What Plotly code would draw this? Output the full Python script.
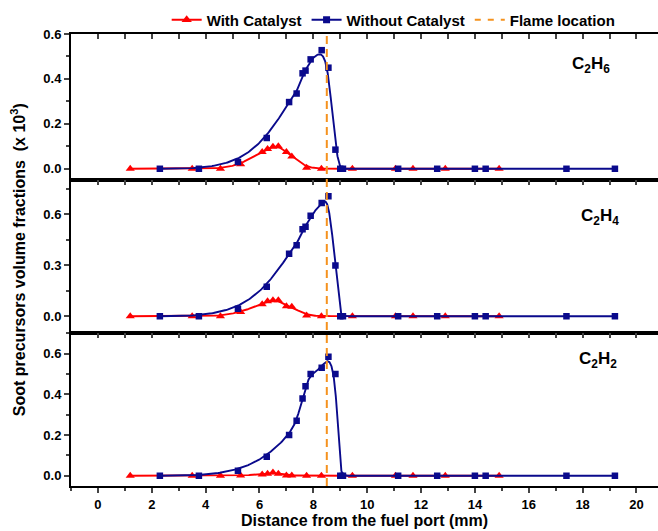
import numpy as np
import plotly.graph_objects as go

# Axial positions (mm) of the measured points
dist_with = [1.2, 3.5, 4.55, 5.3, 6.1, 6.3, 6.5, 6.7, 7.0, 7.2, 7.75, 8.3, 9.45, 11.05, 11.7, 12.9, 14.9]
dist_without = [2.3, 3.75, 5.2, 6.27, 7.1, 7.38, 7.6, 7.71, 7.9, 8.31, 8.56, 8.82, 9.0, 9.1,
                11.15, 12.6, 14.0, 14.4, 17.4, 19.2]

# Volume fractions (x 10^3)
c2h6_with = [0, 0, 0, 0.02, 0.075, 0.088, 0.098, 0.1, 0.075, 0.055, 0.005, 0, 0, 0, 0, 0, 0]
c2h6_without = [0, 0, 0.03, 0.137, 0.297, 0.335, 0.425, 0.437, 0.487, 0.528, 0.45, 0.085, 0, 0,
                0, 0, 0, 0, 0, 0]
c2h4_with = [0, 0, 0, 0.025, 0.07, 0.088, 0.093, 0.093, 0.058, 0.055, 0.004, 0, 0, 0, 0, 0, 0]
c2h4_without = [0, 0, 0.044, 0.173, 0.367, 0.417, 0.51, 0.526, 0.59, 0.665, 0.704, 0.298, 0, 0,
                0, 0, 0, 0, 0, 0]
c2h2_with = [0, 0, 0, 0.002, 0.006, 0.01, 0.016, 0.01, 0.002, 0.002, 0, 0, 0, 0, 0, 0, 0]
c2h2_without = [0, 0, 0.025, 0.094, 0.2, 0.27, 0.38, 0.44, 0.5, 0.53, 0.585, 0.5, 0, 0,
                0, 0, 0, 0, 0, 0]

flame_location = 8.5
species_labels = ["C<sub>2</sub>H<sub>6</sub>", "C<sub>2</sub>H<sub>4</sub>", "C<sub>2</sub>H<sub>2</sub>"]

RED = "#FF0000"
NAVY = "#0A0A8C"
ORANGE = "#F5921E"
FONT = "Arial, Liberation Sans, sans-serif"


def bspline(xs, ys, n=24):
    """Uniform cubic B-spline using the points as control points (clamped ends)."""
    P = np.column_stack([xs, ys]).astype(float)
    P = np.vstack([P[0], P[0], P, P[-1], P[-1]])
    t = np.linspace(0, 1, n, endpoint=False)
    b0 = (1 - t) ** 3 / 6
    b1 = (3 * t ** 3 - 6 * t ** 2 + 4) / 6
    b2 = (-3 * t ** 3 + 3 * t ** 2 + 3 * t + 1) / 6
    b3 = t ** 3 / 6
    segs = []
    for i in range(len(P) - 3):
        p0, p1, p2, p3 = P[i:i + 4]
        segs.append(np.outer(b0, p0) + np.outer(b1, p1) + np.outer(b2, p2) + np.outer(b3, p3))
    pts = np.vstack(segs + [P[-1][None, :]])
    return pts[:, 0], pts[:, 1]


panels = [
    (c2h6_with, c2h6_without, "x", "y"),
    (c2h4_with, c2h4_without, "x2", "y2"),
    (c2h2_with, c2h2_without, "x3", "y3"),
]

fig = go.Figure()
for with_vals, without_vals, xa, ya in panels:
    for xs, ys, color, symbol, size in [
        (dist_with, with_vals, RED, "triangle-up", 8),
        (dist_without, without_vals, NAVY, "square", 6.5),
    ]:
        cx, cy = bspline(xs, ys)
        fig.add_trace(go.Scatter(x=cx, y=cy, mode="lines", line=dict(color=color, width=1.9),
                                 xaxis=xa, yaxis=ya, showlegend=False, hoverinfo="skip"))
        fig.add_trace(go.Scatter(x=xs, y=ys, mode="markers",
                                 marker=dict(color=color, symbol=symbol, size=size, line=dict(width=0)),
                                 xaxis=xa, yaxis=ya, showlegend=False))

# helper trace so the overlay top-tick axis of the bottom panel is drawn
fig.add_trace(go.Scatter(x=[None], y=[None], xaxis="x4", yaxis="y3", showlegend=False))

# legend entries
fig.add_trace(go.Scatter(x=[None], y=[None], mode="lines+markers", name="With Catalyst",
                         line=dict(color=RED, width=2),
                         marker=dict(color=RED, symbol="triangle-up", size=9)))
fig.add_trace(go.Scatter(x=[None], y=[None], mode="lines+markers", name="Without Catalyst",
                         line=dict(color=NAVY, width=2),
                         marker=dict(color=NAVY, symbol="square", size=7)))
fig.add_trace(go.Scatter(x=[None], y=[None], mode="lines", name="Flame location",
                         line=dict(color=ORANGE, width=2, dash="6px,7px")))

# flame location marker across all panels
fig.add_shape(type="line", xref="x3", yref="paper", x0=flame_location, x1=flame_location,
              y0=0, y1=1, line=dict(color=ORANGE, width=2, dash="8px,5px"))

xrange = [-1, 20.8]
tickfont = dict(family=FONT, size=13, color="black", weight="bold")
top_axis = dict(range=xrange, side="top", ticks="inside", ticklen=5, tickwidth=1.5, dtick=1,
                tick0=0, showticklabels=False, showline=True, linewidth=2, linecolor="black",
                mirror=True, showgrid=False, zeroline=False)

domains = [[0.677, 1.0], [0.338, 0.677], [0.0, 0.338]]
yranges = [[-0.05, 0.6], [-0.1, 0.8], [-0.05, 0.7]]
ydticks = [0.2, 0.3, 0.2]

layout_axes = {}
for i in range(3):
    suffix = "" if i == 0 else str(i + 1)
    layout_axes["yaxis" + suffix] = dict(
        domain=domains[i], range=yranges[i], anchor="x" + suffix, dtick=ydticks[i], tick0=0,
        tickformat=".1f", ticks="outside", ticklen=5, tickwidth=1.5, tickfont=tickfont,
        minor=dict(ticks="outside", ticklen=3, tickwidth=1.5, dtick=ydticks[i] / 2, tick0=0),
        showline=True, linewidth=2, linecolor="black", showgrid=False, zeroline=False)

layout_axes["xaxis"] = dict(top_axis, anchor="y")
layout_axes["xaxis2"] = dict(top_axis, anchor="y2")
layout_axes["xaxis3"] = dict(
    range=xrange, anchor="y3", side="bottom", dtick=2, tick0=0, ticks="outside", ticklen=5,
    tickwidth=1.5, tickfont=tickfont,
    minor=dict(ticks="outside", ticklen=3, tickwidth=1.5, dtick=1, tick0=0),
    showline=True, linewidth=2, linecolor="black", mirror=True, showgrid=False, zeroline=False,
    title=dict(text="Distance from the fuel port (mm)", standoff=2,
               font=dict(family=FONT, size=16, color="black", weight="bold")))
layout_axes["xaxis4"] = dict(top_axis, anchor="y3", overlaying="x3", mirror=False)

fig.update_layout(
    width=658, height=531,
    margin=dict(l=71, r=0, t=34, b=45),
    paper_bgcolor="white", plot_bgcolor="white",
    font=dict(family=FONT, color="black"),
    legend=dict(orientation="h", x=0.163, xanchor="left", y=1.031, yanchor="middle",
                font=dict(family=FONT, size=15, color="black", weight="bold"),
                bgcolor="rgba(0,0,0,0)", itemwidth=30, tracegroupgap=0),
    **layout_axes,
)

ann_pos = [(0.886, 0.931), (0.901, 0.595), (0.898, 0.279)]
for label, (ax, ay) in zip(species_labels, ann_pos):
    fig.add_annotation(x=ax, y=ay, xref="paper", yref="paper", xanchor="center", yanchor="middle",
                       text=label, showarrow=False,
                       font=dict(family=FONT, size=17, color="black", weight="bold"))

fig.add_annotation(x=-0.09, y=0.5, xref="paper", yref="paper", xanchor="center", yanchor="middle",
                   textangle=-90, showarrow=False,
                   text="Soot precursors volume fractions  (x 10<sup>3</sup>)",
                   font=dict(family=FONT, size=16, color="black", weight="bold"))

fig.write_html("out.html")
